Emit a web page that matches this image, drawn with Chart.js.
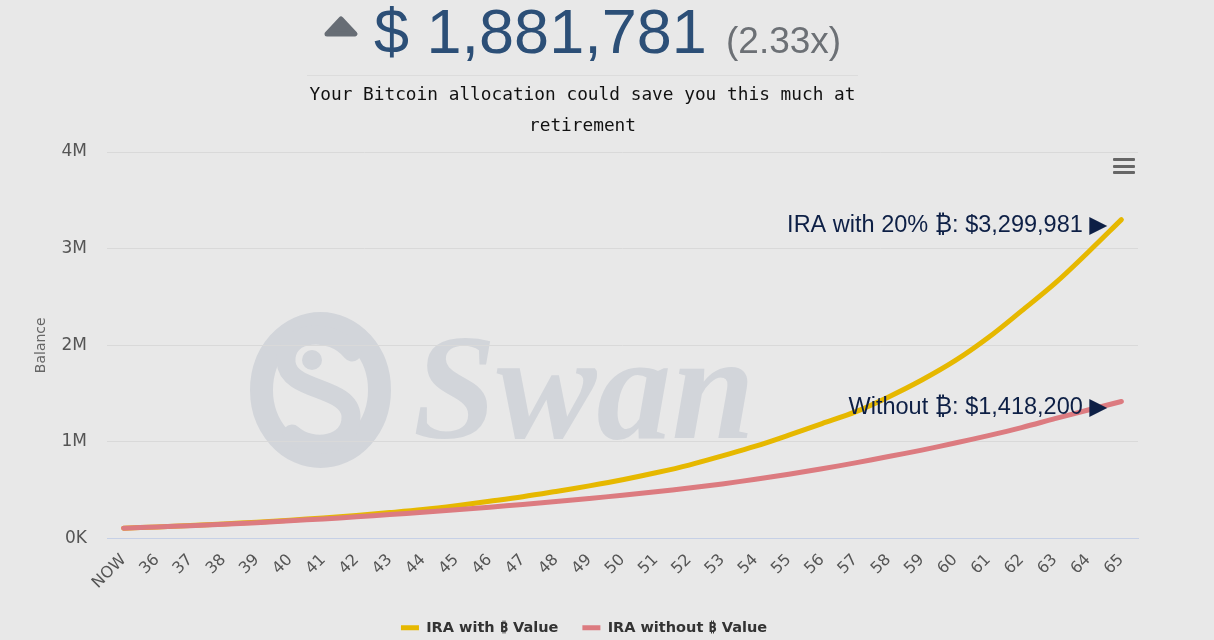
<!DOCTYPE html>
<html>
<head>
<meta charset="utf-8">
<script src="https://cdn.jsdelivr.net/npm/chart.js@4.4.1/dist/chart.umd.min.js"></script>
<style>
html, body { margin:0; padding:0; background:#e8e8e8; width:1214px; height:640px; overflow:hidden; }
#wrap { position:relative; width:1168px; height:645px; }
#watermark { position:absolute; left:0; top:0; z-index:0; }
#chartBox { position:absolute; left:0; top:0; width:1168px; height:645px; z-index:1; }
.arrow { position:absolute; left:323px; top:14px; z-index:2; }
.amount { position:absolute; left:374px; top:0; font:63px/63px "Liberation Sans", Arial, sans-serif; color:#2c4f77; white-space:nowrap; z-index:2; }
.mult { position:absolute; left:726px; top:22px; font:37px/37px "Liberation Sans", Arial, sans-serif; color:#6c7075; white-space:nowrap; z-index:2; }
.sub { position:absolute; left:307px; top:75px; width:551px; border-top:1px solid #dcdcdc; padding-top:1.5px;
       font:17.8px/31px "DejaVu Sans Mono", monospace; color:#111; text-align:center; z-index:2; }
.menu { position:absolute; left:1113px; top:158px; width:22px; z-index:2; }
.menu div { height:3px; background:#666; border-radius:1px; margin-bottom:3.7px; }
</style>
</head>
<body>
<div id="wrap">
  <svg id="watermark" width="1168" height="640">
    <ellipse cx="320.5" cy="390" rx="59" ry="66.5" fill="none" stroke="#d2d5da" stroke-width="23"/>
    <path d="M 352 352 C 332 326, 284 330, 286 362 C 288 392, 350 386, 351 416 C 352 446, 312 452, 292 434"
          fill="none" stroke="#d2d5da" stroke-width="19" stroke-linecap="round"/>
    <circle cx="312" cy="360" r="10" fill="#d2d5da"/>
    <text x="413" y="438" font-family="Liberation Serif, DejaVu Serif, serif" font-weight="bold" font-style="italic"
          font-size="150" fill="#d2d5da">Swan</text>
  </svg>

  <svg class="arrow" width="36" height="24"><polygon points="4,20 18,5 32,20" fill="#676d75" stroke="#676d75" stroke-width="5" stroke-linejoin="round"/></svg>
  <div class="amount">$ 1,881,781</div>
  <div class="mult">(2.33x)</div>
  <div class="sub">Your Bitcoin allocation could save you this much at retirement</div>
  <div class="menu"><div></div><div></div><div></div></div>

  <div id="chartBox"><canvas id="balanceChart"></canvas></div>
</div>
<script>
// ages along the bottom
const ages = ['NOW', '36', '37', '38', '39', '40', '41', '42', '43', '44', '45', '46', '47', '48', '49', '50',
    '51', '52', '53', '54', '55', '56', '57', '58', '59', '60', '61', '62', '63', '64', '65'];
// balance with 20% bitcoin
const withBtc = [107000, 120000, 135000, 151000, 169000, 190000, 213000, 239000, 268000, 300000, 340000,
    385000, 432000, 487000, 545000, 608000, 680000, 760000, 855000, 955000, 1070000,
    1190000, 1310000, 1465000, 1640000, 1840000, 2080000, 2356000, 2640000, 2963000, 3299981];
// balance without bitcoin
const withoutBtc = [107000, 119000, 133000, 147000, 164000, 183000, 203000, 224000, 248000, 272000, 298000,
    324000, 352000, 382000, 414000, 448000, 484000, 522000, 565000, 613000, 665000,
    722000, 783000, 848000, 915000, 988000, 1065000, 1148000, 1240000, 1330000, 1418200];
const seriesNames = ['IRA with \u20BF Value', 'IRA without \u20BF Value'];
const seriesColors = ['#e6b800', '#dc7b80'];
const endLabels = ['IRA with 20% \u20BF: $3,299,981 \u25B6', 'Without \u20BF: $1,418,200 \u25B6'];
const yMax = 4000000;
const yStep = 1000000;

const sansFont = '"DejaVu Sans", "Noto Sans", sans-serif';

// text at the end of each line
const endLabelPlugin = {
    id: 'endLabels',
    afterDatasetsDraw(chart) {
        const ctx = chart.ctx;
        ctx.save();
        ctx.font = '23.5px "Liberation Sans", Arial, "Noto Sans", "DejaVu Sans", sans-serif';
        ctx.fillStyle = '#0d1f45';
        ctx.textAlign = 'right';
        ctx.textBaseline = 'middle';
        chart.data.datasets.forEach((ds, i) => {
            const meta = chart.getDatasetMeta(i);
            const pt = meta.data[meta.data.length - 1];
            ctx.fillText(endLabels[i], pt.x - 14, pt.y + 6);
        });
        ctx.restore();
    }
};

const ctx = document.getElementById('balanceChart').getContext('2d');
new Chart(ctx, {
    type: 'line',
    data: {
        labels: ages,
        datasets: [{
            label: seriesNames[0],
            data: withBtc,
            borderColor: seriesColors[0],
            backgroundColor: seriesColors[0],
            borderWidth: 5,
            borderCapStyle: 'round',
            tension: 0.35,
            pointRadius: 0,
            order: 1
        }, {
            label: seriesNames[1],
            data: withoutBtc,
            borderColor: seriesColors[1],
            backgroundColor: seriesColors[1],
            borderWidth: 5,
            borderCapStyle: 'round',
            tension: 0.35,
            pointRadius: 0,
            order: 0
        }]
    },
    options: {
        responsive: true,
        maintainAspectRatio: false,
        animation: false,
        layout: { padding: { left: 30, right: 30, top: 152, bottom: 0 } },
        plugins: {
            legend: {
                position: 'bottom',
                labels: {
                    usePointStyle: true,
                    pointStyle: 'line',
                    pointStyleWidth: 18,
                    padding: 24,
                    color: '#333',
                    font: { size: 14.5, weight: 'bold', family: sansFont },
                    sort: (a, b) => a.datasetIndex - b.datasetIndex
                }
            },
            tooltip: { enabled: false }
        },
        scales: {
            x: {
                offset: true,
                grid: { display: false, drawTicks: false },
                border: { color: '#c6d0e6', width: 1 },
                ticks: {
                    autoSkip: false, minRotation: 45, maxRotation: 45,
                    color: '#555', padding: 12, labelOffset: 0,
                    font: { size: 16, family: sansFont }
                },
                afterFit(scale) { scale.height = 58; }
            },
            y: {
                min: 0, max: yMax,
                grid: { color: c => c.tick.value === 0 ? 'rgba(0,0,0,0)' : '#d9d9d9', drawTicks: false },
                border: { display: false },
                ticks: {
                    stepSize: yStep, color: '#555', padding: 20,
                    font: { size: 17, family: sansFont },
                    callback: v => v === 0 ? '0K' : (v / 1000000) + 'M'
                },
                title: { display: true, text: 'Balance', color: '#666', font: { size: 14, family: sansFont }, padding: { top: 3, bottom: 0 } },
                afterFit(scale) { scale.width = 77; }
            }
        }
    },
    plugins: [endLabelPlugin]
});
</script>
</body>
</html>
